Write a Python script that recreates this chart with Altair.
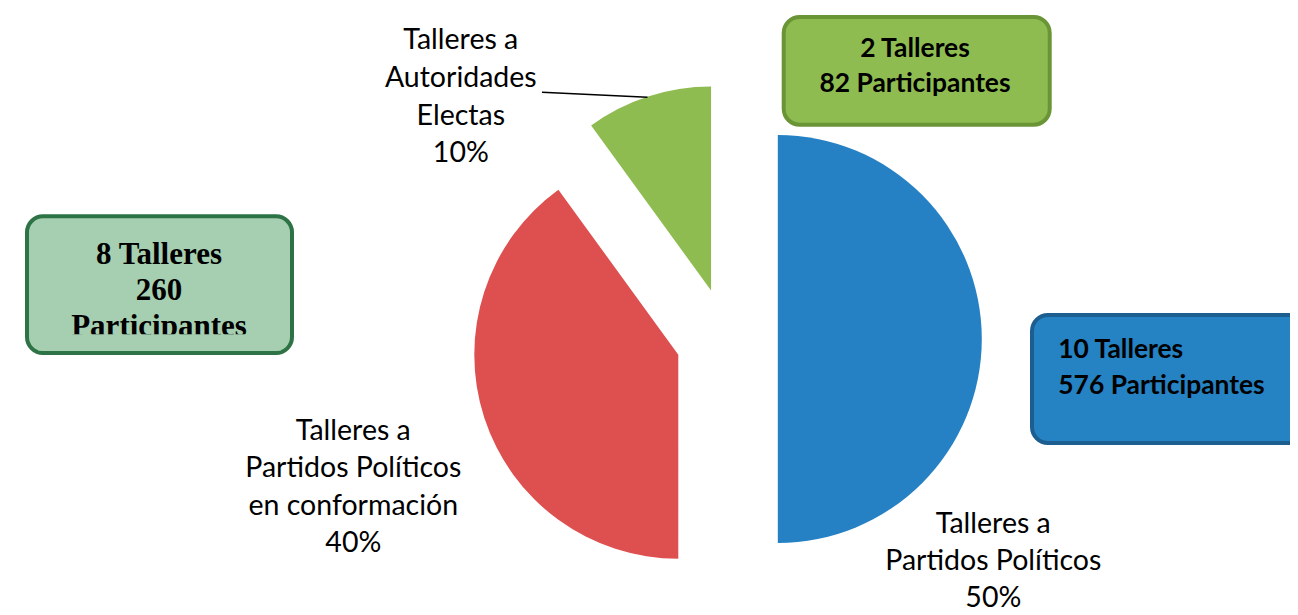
import altair as alt
import pandas as pd

# ---- data ----
categorias = [
    "Talleres a Partidos Políticos",
    "Talleres a Partidos Políticos en conformación",
    "Talleres a Autoridades Electas",
]
etiquetas = [
    "Talleres a\nPartidos Políticos",
    "Talleres a\nPartidos Políticos\nen conformación",
    "Talleres a\nAutoridades\nElectas",
]
talleres = [10, 8, 2]
participantes = [576, 260, 82]
orden = [0, 1, 2]

# ---- style / layout ----
colores = ["#2581c4", "#de504f", "#8fbc51"]
CX, CY, R, EXPLODE = 718.8, 331, 204, 51
LABEL_FONT = "Lato"
LABEL_SIZE = 28.5

df = pd.DataFrame({
    "categoria": categorias,
    "etiqueta": etiquetas,
    "talleres": talleres,
    "participantes": participantes,
    "orden": orden,
})

base = (
    alt.Chart(df)
    .transform_joinaggregate(total="sum(talleres)")
    .transform_window(cum="sum(talleres)", sort=[alt.SortField("orden")], frame=[None, 0])
    .transform_calculate(
        t0="2*PI*(datum.cum-datum.talleres)/datum.total",
        t1="2*PI*datum.cum/datum.total",
        pct="format(datum.talleres/datum.total, '.0%')",
    )
    .transform_calculate(mid="(datum.t0+datum.t1)/2")
    .transform_calculate(
        px=f"{CX}+{EXPLODE}*sin(datum.mid)",
        py=f"{CY}-{EXPLODE}*cos(datum.mid)",
        texto="datum.etiqueta + '\\n' + datum.pct",
    )
)

pie = base.mark_arc(outerRadius=R).encode(
    theta=alt.Theta("t0:Q", scale=None, stack=False),
    theta2="t1:Q",
    x=alt.X("px:Q", scale=None),
    y=alt.Y("py:Q", scale=None),
    color=alt.Color("categoria:N", scale=alt.Scale(domain=categorias, range=colores), legend=None),
)

# slice labels (layout positions: center x, first baseline y, line height)
label_layout = {
    0: (985.3, 525.0, 36.8),
    1: (345.3, 432.0, 37.3),
    2: (452.8, 41.3, 37.7),
}
labels = []
for i, (lx, ly, lh) in label_layout.items():
    labels.append(
        base.transform_filter(f"datum.orden == {i}")
        .mark_text(font=LABEL_FONT, fontSize=LABEL_SIZE, align="center", baseline="alphabetic",
                   lineBreak="\n", lineHeight=lh, color="black")
        .encode(x=alt.value(lx), y=alt.value(ly), text="texto:N")
    )

leader = (
    base.transform_filter("datum.orden == 2")
    .mark_rule(color="black", strokeWidth=1.5)
    .encode(x=alt.value(534), x2=alt.value(639.5), y=alt.value(84.3), y2=alt.value(89.3))
)

# annotation boxes
box_layout = [
    # orden, x, x2, y, y2, fill, stroke
    (2, 775.7, 1041.7, 9, 116.7, "#8fbc51", "#6a9536"),
    (1, 19, 284, 208.3, 345, "#a6cfb1", "#2d7345"),
    (0, 1024, 1320, 307, 435, "#2582c3", "#1b5e8f"),
]
boxes = []
for o, x1, x2, y1, y2, fill, stroke in box_layout:
    boxes.append(
        base.transform_filter(f"datum.orden == {o}")
        .mark_rect(fill=fill, stroke=stroke, strokeWidth=4, cornerRadius=16)
        .encode(x=alt.value(x1), x2=alt.value(x2), y=alt.value(y1), y2=alt.value(y2))
    )

box_green_text = (
    base.transform_filter("datum.orden == 2")
    .transform_calculate(bt="datum.talleres + ' Talleres\\n' + datum.participantes + ' Participantes'")
    .mark_text(font=LABEL_FONT, fontWeight="bold", fontSize=26.4, align="center", baseline="alphabetic",
               lineBreak="\n", lineHeight=35, color="black")
    .encode(x=alt.value(907), y=alt.value(48.7), text="bt:N")
)
box_blue_text = (
    base.transform_filter("datum.orden == 0")
    .transform_calculate(bt="datum.talleres + ' Talleres\\n' + datum.participantes + ' Participantes'")
    .mark_text(font=LABEL_FONT, fontWeight="bold", fontSize=26.4, align="left", baseline="alphabetic",
               lineBreak="\n", lineHeight=36, color="black")
    .encode(x=alt.value(1050.3), y=alt.value(350.3), text="bt:N")
)
box_left_text = (
    base.transform_filter("datum.orden == 1")
    .transform_calculate(bt="datum.talleres + ' Talleres\\n' + datum.participantes + '\\nParticipantes'")
    .mark_text(font="Liberation Serif", fontWeight="bold", fontSize=31, align="center", baseline="alphabetic",
               lineBreak="\n", lineHeight=35.7, color="black")
    .encode(x=alt.value(151), y=alt.value(256.3), text="bt:N")
)
# text box clipping (the last line is cut by the box's inner edge)
clip_cover = (
    base.transform_filter("datum.orden == 1")
    .mark_rect(fill="#a6cfb1")
    .encode(x=alt.value(30), x2=alt.value(273), y=alt.value(326.3), y2=alt.value(342.5))
)

chart = (
    alt.layer(pie, *labels, leader, *boxes, box_green_text, box_blue_text, box_left_text, clip_cover)
    .properties(width=1282, height=607, padding=0,
                autosize=alt.AutoSizeParams(type="fit", contains="padding"))
    .configure_view(stroke=None)
)

chart.save("out.html", embed_options={"renderer": "svg", "actions": False})
